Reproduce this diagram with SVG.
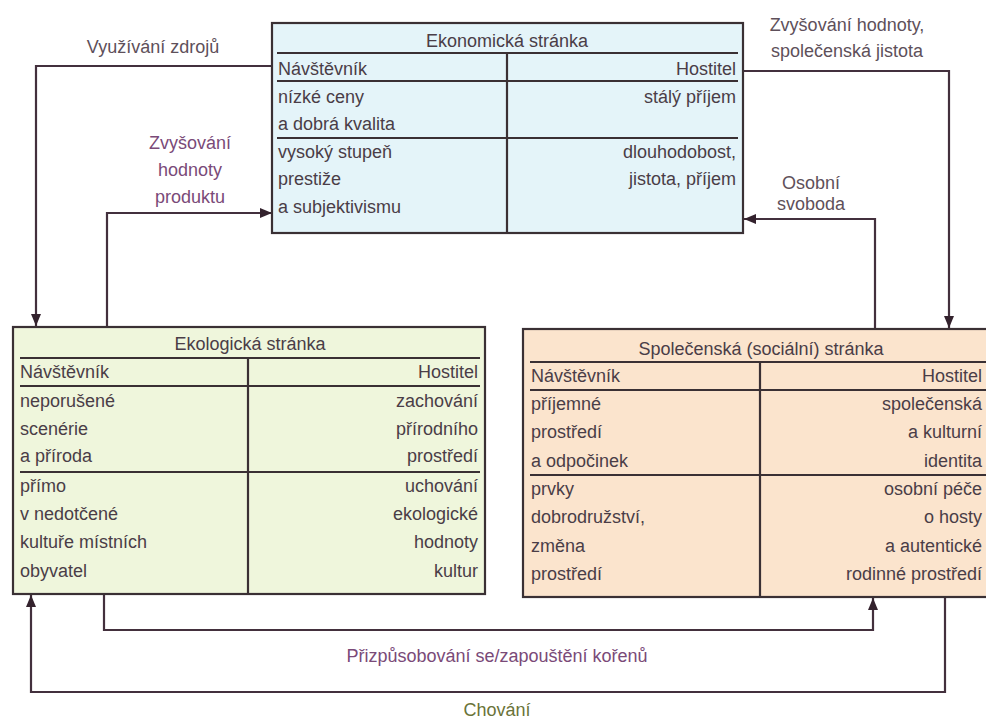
<svg xmlns="http://www.w3.org/2000/svg" width="986" height="719" viewBox="0 0 986 719">
<style>
text{font-family:"Liberation Sans",Arial,sans-serif;font-size:18px;fill:#4a3d47}
.box{stroke:#3a3034;stroke-width:2.2}
.ln{stroke:#3a3034;stroke-width:2.2;fill:none}
.e{text-anchor:end}
.m{text-anchor:middle}
.con{stroke:#43303d;stroke-width:2.2;fill:none;marker-end:url(#ah)}
.lbl{text-anchor:middle;fill:#5e505a}
.lp{text-anchor:middle;fill:#7a4a78}
.lg{text-anchor:middle;fill:#6a7338}
</style>
<defs>
<marker id="ah" markerUnits="userSpaceOnUse" markerWidth="13" markerHeight="10" refX="12" refY="5" orient="auto">
<path d="M0,0 L12,5 L0,10 z" fill="#33222d"/>
</marker>
</defs>
<rect width="986" height="719" fill="#ffffff"/>

<g id="connectors">
<path class="con" d="M272,66 H36 V326"/>
<path class="con" d="M107,327 V213 H272"/>
<path class="con" d="M743,71 H949 V328"/>
<path class="con" d="M875,329 V219 H744"/>
<path class="con" d="M104,594 V630 H873 V598"/>
<path class="con" d="M945,597 V692 H31 V595"/>
</g>

<g id="labels">
<text class="lbl" x="153" y="53">Využívání zdrojů</text>
<text class="lp" x="190" y="149">Zvyšování</text>
<text class="lp" x="190" y="176">hodnoty</text>
<text class="lp" x="190" y="203">produktu</text>
<text class="lbl" x="847" y="31">Zvyšování hodnoty,</text>
<text class="lbl" x="847" y="57">společenská jistota</text>
<text class="lbl" x="811" y="189">Osobní</text>
<text class="lbl" x="811" y="210">svoboda</text>
<text class="lp" x="497" y="662">Přizpůsobování se/zapouštění kořenů</text>
<text class="lg" x="497" y="716">Chování</text>
</g>

<g id="ekonomicka">
<rect class="box" x="272" y="23" width="471" height="210" fill="#e4f4f9"/>
<text class="m" x="507" y="47">Ekonomická stránka</text>
<path class="ln" d="M277,53 H738 M277,81 H738 M277,138 H738 M507,53 V233"/>
<text x="278" y="75">Návštěvník</text>
<text x="278" y="103">nízké ceny</text>
<text x="278" y="130">a dobrá kvalita</text>
<text x="278" y="158">vysoký stupeň</text>
<text x="278" y="185">prestiže</text>
<text x="278" y="213">a subjektivismu</text>
<text class="e" x="736" y="75">Hostitel</text>
<text class="e" x="736" y="103">stálý příjem</text>
<text class="e" x="736" y="158">dlouhodobost,</text>
<text class="e" x="736" y="185">jistota, příjem</text>
</g>

<g id="ekologicka">
<rect class="box" x="13" y="327" width="472" height="267" fill="#eff6dc"/>
<text class="m" x="250" y="350">Ekologická stránka</text>
<path class="ln" d="M20,358 H480 M20,386 H480 M20,472 H480 M248,358 V594"/>
<text x="20" y="378">Návštěvník</text>
<text x="20" y="407">neporušené</text>
<text x="20" y="435">scenérie</text>
<text x="20" y="462">a příroda</text>
<text x="20" y="492">přímo</text>
<text x="20" y="520">v nedotčené</text>
<text x="20" y="548">kultuře místních</text>
<text x="20" y="577">obyvatel</text>
<text class="e" x="478" y="378">Hostitel</text>
<text class="e" x="478" y="407">zachování</text>
<text class="e" x="478" y="435">přírodního</text>
<text class="e" x="478" y="462">prostředí</text>
<text class="e" x="478" y="492">uchování</text>
<text class="e" x="478" y="520">ekologické</text>
<text class="e" x="478" y="548">hodnoty</text>
<text class="e" x="478" y="577">kultur</text>
</g>

<g id="spolecenska">
<rect class="box" x="523" y="329" width="477" height="268" fill="#fbe4cd"/>
<text class="m" x="761" y="355">Společenská (sociální) stránka</text>
<path class="ln" d="M530,362 H1000 M530,390 H1000 M530,475 H1000 M760,362 V597"/>
<text x="531" y="382">Návštěvník</text>
<text x="531" y="410">příjemné</text>
<text x="531" y="438">prostředí</text>
<text x="531" y="467">a odpočinek</text>
<text x="531" y="495">prvky</text>
<text x="531" y="523">dobrodružství,</text>
<text x="531" y="552">změna</text>
<text x="531" y="580">prostředí</text>
<text class="e" x="982" y="382">Hostitel</text>
<text class="e" x="982" y="410">společenská</text>
<text class="e" x="982" y="438">a kulturní</text>
<text class="e" x="982" y="467">identita</text>
<text class="e" x="982" y="495">osobní péče</text>
<text class="e" x="982" y="523">o hosty</text>
<text class="e" x="982" y="552">a autentické</text>
<text class="e" x="982" y="580">rodinné prostředí</text>
</g>
</svg>
